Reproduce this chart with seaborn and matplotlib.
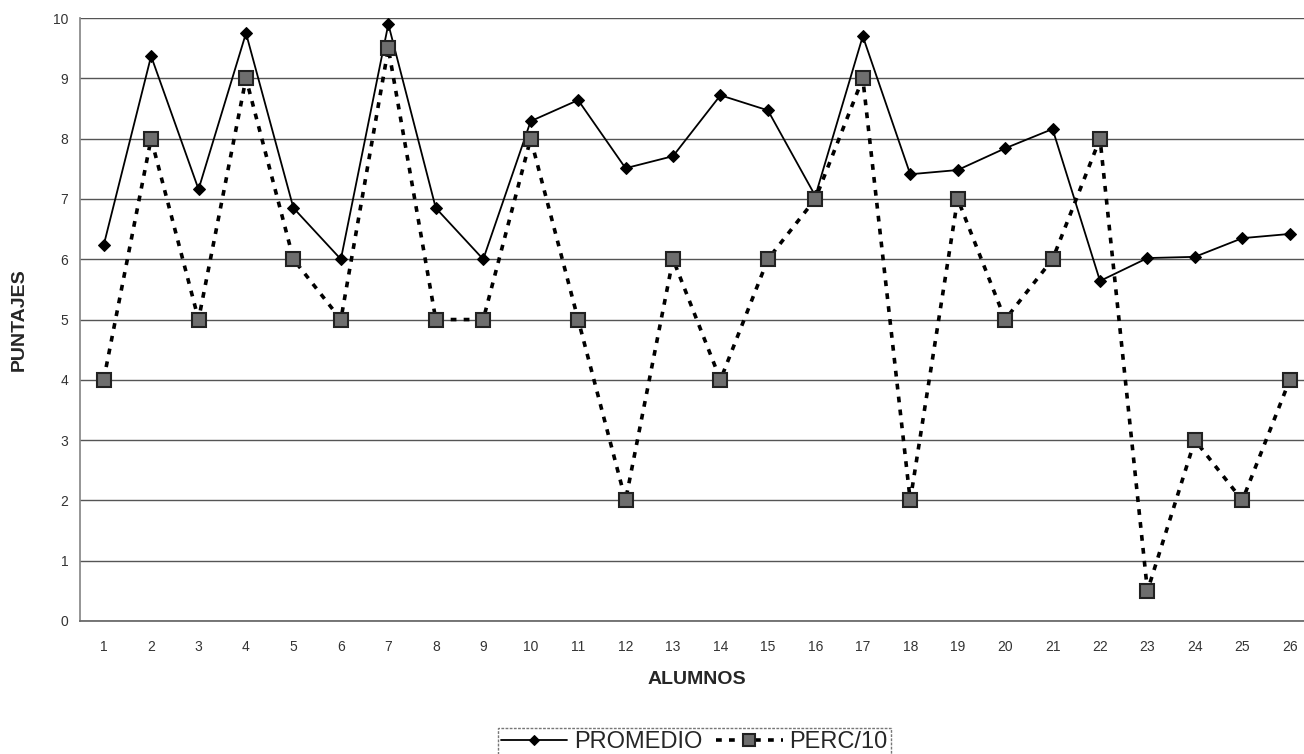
import numpy as np
import pandas as pd
import matplotlib
matplotlib.use('Agg')
import matplotlib.pyplot as plt
import seaborn as sns

# datos
alumnos = list(range(1, 27))
promedio = [6.23, 9.37, 7.16, 9.75, 6.85, 6.0, 9.9, 6.85, 6.0, 8.29, 8.64, 7.51, 7.71,
            8.72, 8.47, 7.05, 9.7, 7.41, 7.48, 7.84, 8.16, 5.64, 6.02, 6.04, 6.35, 6.42]
perc10 = [4, 8, 5, 9, 6, 5, 9.5, 5, 5, 8, 5, 2, 6, 4, 6, 7, 9, 2, 7, 5, 6, 8, 0.5, 3, 2, 4]

df = pd.DataFrame({'ALUMNOS': alumnos, 'PROMEDIO': promedio, 'PERC/10': perc10})

sns.set_theme(style='white')
plt.rcParams['font.family'] = ['Liberation Sans', 'DejaVu Sans']

fig = plt.figure(figsize=(13.04, 7.54), dpi=100)
ax = fig.add_axes([0.0613, 0.1764, 0.946, 0.7996])

sns.lineplot(data=df, x='ALUMNOS', y='PROMEDIO', ax=ax, color='black', linewidth=1.3,
             marker='D', markersize=6, markerfacecolor='black', markeredgecolor='black',
             label='PROMEDIO', zorder=3)
sns.lineplot(data=df, x='ALUMNOS', y='PERC/10', ax=ax, color='black', linewidth=2.6,
             linestyle=(0, (1.6, 2.0)), marker='s', markersize=10,
             markerfacecolor='#6e6e6e', markeredgecolor='#222222', markeredgewidth=1.5,
             label='PERC/10', zorder=4)

ax.set_xlim(0.5, 26.5)
ax.set_ylim(0, 10)
ax.set_yticks(range(0, 11))
ax.set_xticks(alumnos)
ax.set_xticks(np.arange(0.5, 27, 1), minor=True)
ax.tick_params(axis='x', which='major', length=0, labelsize=10, pad=14, colors='#333333')
ax.tick_params(axis='x', which='minor', length=4, color='#777777', direction='out')
ax.tick_params(axis='y', length=5, labelsize=10, colors='#333333', direction='out')
ax.yaxis.grid(True, color='#555555', linewidth=1)
ax.set_axisbelow(True)

for s in ['top', 'right']:
    ax.spines[s].set_visible(False)
ax.spines['left'].set_color('#888888')
ax.spines['bottom'].set_color('#666666')

ax.set_xlabel('ALUMNOS', fontsize=14, fontweight='bold', labelpad=12)
ax.set_ylabel('PUNTAJES', fontsize=14, fontweight='bold', labelpad=18)

leg = ax.legend(loc='upper center', bbox_to_anchor=(0.498, -0.158), ncol=2, frameon=True,
                fontsize=17, fancybox=False, edgecolor='#555555', handlelength=2.8,
                columnspacing=0.6, handletextpad=0.3, borderpad=0.12, markerscale=0.8)
leg.get_frame().set_linestyle((0, (2, 1)))

fig.savefig('out.png', dpi=100)
